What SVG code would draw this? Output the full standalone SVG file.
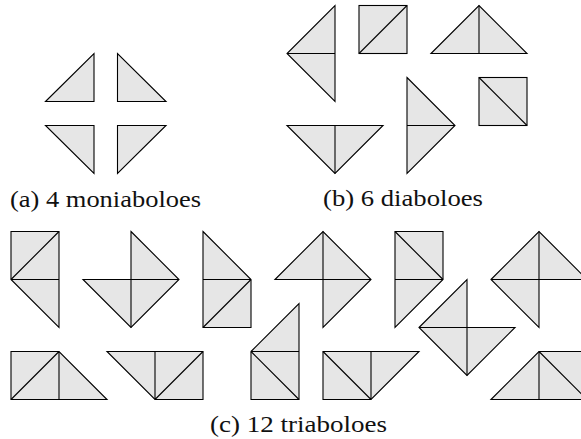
<svg xmlns="http://www.w3.org/2000/svg" width="581" height="439" viewBox="0 0 581 439">
<style>
.p{fill:#e6e6e6;stroke:#000;stroke-width:1.1;stroke-linejoin:miter}
.l{fill:none;stroke:#000;stroke-width:1.1}
.t{font-family:"Liberation Serif","DejaVu Serif",serif;font-size:23px;fill:#111}
</style>
<rect width="581" height="439" fill="#fff"/>
<g id="a1"><polygon class="p" points="45.5,101.5 94,53.5 94,101.5"/></g>
<g id="a2"><polygon class="p" points="117.5,53.5 117.5,101.5 166,101.5"/></g>
<g id="a3"><polygon class="p" points="45.5,125.5 94,125.5 94,173.5"/></g>
<g id="a4"><polygon class="p" points="117.5,125.5 166,125.5 117.5,173.5"/></g>
<text class="t" x="10" y="206.5" textLength="191" lengthAdjust="spacingAndGlyphs">(a) 4 moniaboloes</text>

<g id="b1"><polygon class="p" points="335,5.5 335,101.5 287,53.5"/><path class="l" d="M287,53.5H335"/></g>
<g id="b2"><rect class="p" x="359" y="5.5" width="48" height="48"/><path class="l" d="M359,53.5L407,5.5"/></g>
<g id="b3"><polygon class="p" points="431,53.5 479,5.5 527,53.5"/><path class="l" d="M479,5.5V53.5"/></g>
<g id="b4"><polygon class="p" points="407,77.5 455,125.5 407,173.5"/><path class="l" d="M407,125.5H455"/></g>
<g id="b5"><rect class="p" x="479" y="77.5" width="48" height="48"/><path class="l" d="M479,77.5L527,125.5"/></g>
<g id="b6"><polygon class="p" points="287,125.5 383,125.5 335,173.5"/><path class="l" d="M335,125.5V173.5"/></g>
<text class="t" x="323" y="206" textLength="160" lengthAdjust="spacingAndGlyphs">(b) 6 diaboloes</text>

<g id="c1"><polygon class="p" points="11,231.5 59,231.5 59,327.5 11,279.5"/><path class="l" d="M11,279.5H59M11,279.5L59,231.5"/></g>
<g id="c2"><polygon class="p" points="131,231.5 179,279.5 131,327.5 83,279.5 131,279.5"/><path class="l" d="M131,279.5H179M131,279.5V327.5"/></g>
<g id="c3"><polygon class="p" points="203,231.5 251,279.5 251,327.5 203,327.5"/><path class="l" d="M203,279.5H251M203,327.5L251,279.5"/></g>
<g id="c4"><polygon class="p" points="275,279.5 323,231.5 371,279.5 323,327.5 323,279.5"/><path class="l" d="M323,231.5V279.5M323,279.5H371"/></g>
<g id="c5"><polygon class="p" points="395,231.5 443,231.5 443,279.5 395,327.5"/><path class="l" d="M395,279.5H443M395,231.5L443,279.5"/></g>
<g id="c6"><polygon class="p" points="491,279.5 539,231.5 587,279.5 539,279.5 539,327.5"/><path class="l" d="M539,231.5V279.5M491,279.5H539"/></g>
<g id="c7"><polygon class="p" points="11,351.5 59,351.5 107,399.5 11,399.5"/><path class="l" d="M59,351.5V399.5M11,399.5L59,351.5"/></g>
<g id="c8"><polygon class="p" points="107,351.5 203,351.5 203,399.5 155,399.5"/><path class="l" d="M155,351.5V399.5M155,399.5L203,351.5"/></g>
<g id="c9"><polygon class="p" points="251,351.5 299,303.5 299,399.5 251,399.5"/><path class="l" d="M251,351.5H299M251,351.5L299,399.5"/></g>
<g id="c10"><polygon class="p" points="323,351.5 419,351.5 371,399.5 323,399.5"/><path class="l" d="M371,351.5V399.5M323,351.5L371,399.5"/></g>
<g id="c11"><polygon class="p" points="419,327.5 467,279.5 467,327.5 515,327.5 467,375.5"/><path class="l" d="M419,327.5H467M467,327.5V375.5"/></g>
<g id="c12"><polygon class="p" points="491,399.5 539,351.5 587,351.5 587,399.5"/><path class="l" d="M539,351.5V399.5M539,351.5L587,399.5"/></g>
<text class="t" x="210" y="431.5" textLength="177" lengthAdjust="spacingAndGlyphs">(c) 12 triaboloes</text>
</svg>
